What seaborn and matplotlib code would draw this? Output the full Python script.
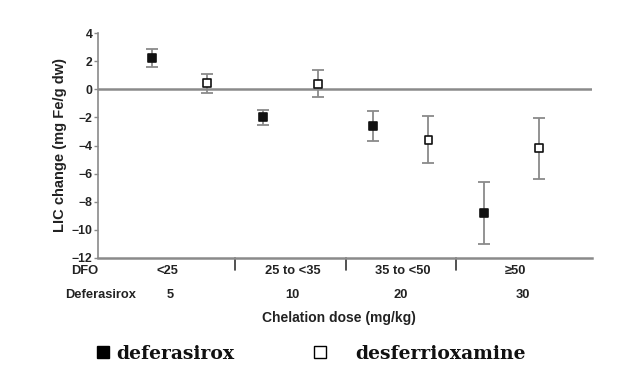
import matplotlib
matplotlib.use('Agg')
import matplotlib.pyplot as plt
from matplotlib.lines import Line2D
import seaborn as sns
import pandas as pd

# data
dfo_groups = ['<25', '25 to <35', '35 to <50', '\u226550']
deferasirox_doses = ['5', '10', '20', '30']
deferasirox_mean = [2.2, -2.0, -2.6, -8.8]
deferasirox_err = [0.65, 0.55, 1.07, 2.2]
dfo_mean = [0.42, 0.4, -3.58, -4.2]
dfo_err = [0.66, 0.97, 1.68, 2.15]

sns.set_theme(style='white')
plt.rcParams['font.family'] = ['Liberation Sans', 'DejaVu Sans']

rows = []
for i in range(len(dfo_groups)):
    rows.append({'pos': i - 0.25, 'mean': deferasirox_mean[i], 'err': deferasirox_err[i], 'drug': 'deferasirox'})
    rows.append({'pos': i + 0.25, 'mean': dfo_mean[i], 'err': dfo_err[i], 'drug': 'desferrioxamine'})
df = pd.DataFrame(rows)

fig = plt.figure(figsize=(6.39, 3.85), dpi=100)
ax = fig.add_axes([98 / 639, 1 - 258 / 385, (592 - 98) / 639, (258 - 33) / 385])

grey = '#8a8a8a'
txt = '#222222'

ax.errorbar(df['pos'], df['mean'], yerr=df['err'], fmt='none', ecolor=grey,
            elinewidth=1.3, capsize=4, capthick=1.3, zorder=2)
sns.scatterplot(data=df, x='pos', y='mean', hue='drug', style='drug',
                palette={'deferasirox': '#111111', 'desferrioxamine': 'white'},
                markers={'deferasirox': 's', 'desferrioxamine': 's'},
                edgecolor='#111111', linewidth=1.2, s=32, zorder=3, legend=False, ax=ax)

ax.axhline(0, color=grey, lw=1.8, zorder=1)
ax.set_xlim(-0.74, 3.73)
ax.set_ylim(-12, 4)
ax.set_yticks(range(-12, 5, 2))
ax.set_xticks([])
ax.set_xlabel('')
ax.set_ylabel('LIC change (mg Fe/g dw)', fontsize=10.5, fontweight='bold', color=txt, labelpad=3)
ax.tick_params(axis='y', left=True, length=3, width=1, color=grey, labelsize=8.8, labelcolor=txt, pad=1)
for lab in ax.get_yticklabels():
    lab.set_fontweight('bold')
sns.despine(ax=ax)
ax.spines['left'].set_color(grey)
ax.spines['bottom'].set_color(grey)
ax.spines['left'].set_linewidth(1.2)
ax.spines['bottom'].set_linewidth(1.8)

# group separators under the axis
for s in [0.5, 1.5, 2.5]:
    ax.plot([s, s], [0, -0.055], transform=ax.get_xaxis_transform(), color='#333333',
            lw=1.2, clip_on=False)

xt = ax.get_xaxis_transform()
fs = 9.3
ax.text(-0.86, -0.058, 'DFO', transform=xt, ha='center', va='center', fontsize=fs, fontweight='bold', color=txt)
ax.text(-0.72, -0.165, 'Deferasirox', transform=xt, ha='center', va='center', fontsize=fs, fontweight='bold', color=txt)
dfo_x = [-0.11, 1.02, 2.02, 3.04]
dose_x = [-0.09, 1.02, 2.0, 3.1]
for i in range(len(dfo_groups)):
    ax.text(dfo_x[i], -0.058, dfo_groups[i], transform=xt, ha='center', va='center',
            fontsize=fs, fontweight='bold', color=txt)
    ax.text(dose_x[i], -0.165, deferasirox_doses[i], transform=xt, ha='center', va='center',
            fontsize=fs, fontweight='bold', color=txt)
ax.text(1.44, -0.268, 'Chelation dose (mg/kg)', transform=xt, ha='center', va='center',
        fontsize=10, fontweight='bold', color=txt)

# legend, one entry each so the spacing follows the reference
h1 = Line2D([], [], marker='s', ls='none', markersize=8.5, markerfacecolor='black', markeredgecolor='black')
h2 = Line2D([], [], marker='s', ls='none', markersize=8.5, markerfacecolor='white', markeredgecolor='black', markeredgewidth=1)
leg_font = {'family': 'DejaVu Serif', 'weight': 'bold', 'size': 13.5}
l1 = fig.legend([h1], ['deferasirox'], loc='center left', bbox_to_anchor=(87 / 639, 1 - 354 / 385),
                frameon=False, prop=leg_font, handlelength=0.9, handletextpad=0.25, borderaxespad=0)
l2 = fig.legend([h2], ['desferrioxamine'], loc='center left', bbox_to_anchor=(304 / 639, 1 - 354 / 385),
                frameon=False, prop=leg_font, handlelength=0.9, handletextpad=1.45, borderaxespad=0)
for l in (l1, l2):
    for t in l.get_texts():
        t.set_color('#111111')

fig.savefig('out.png', dpi=100)
